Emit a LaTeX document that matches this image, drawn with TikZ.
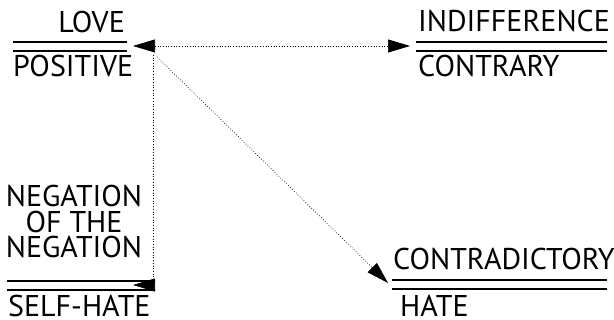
\documentclass[tikz,border=0pt]{standalone}
\usepackage{fontspec}
\setmainfont{PT Sans}
\usetikzlibrary{arrows.meta}
\begin{document}
\begin{tikzpicture}[x=1pt,y=1pt,
  lbl/.style={inner sep=0pt,font=\fontsize{30}{25.5}\selectfont},
  rule/.style={line width=1.8pt},
  conn/.style={dotted,line width=0.7pt},
  head/.tip={Triangle[length=22pt,width=13pt]},
  tip/.style={-head}]
\useasboundingbox (0,0) rectangle (614,320);
% LOVE / POSITIVE
\node[lbl,anchor=base east] (love) at (125,287) {LOVE};
\node[lbl,anchor=base west] (positive) at (13,243) {POSITIVE};
\draw[rule] (13,278) -- (127,278);
\draw[rule] (13,269) -- (127,269);
\coordinate (loveR) at (133,274);
% INDIFFERENCE / CONTRARY
\node[lbl,anchor=base west] (indiff) at (418,288) {INDIFFERENCE};
\node[lbl,anchor=base west] (contrary) at (418,243) {CONTRARY};
\draw[rule] (416,278) -- (607,278);
\draw[rule] (416,269) -- (607,269);
\coordinate (indL) at (410,274);
% NEGATION / SELF-HATE
\node[lbl,anchor=base,align=center] (negation) at (74,62) {NEGATION\\OF THE\\NEGATION};
\node[lbl,anchor=base west] (selfhate) at (8,3) {SELF-HATE};
\draw[rule] (7,39) -- (155,39);
\draw[rule] (7,30) -- (155,30);
\coordinate (negR) at (133,35);
% CONTRADICTORY / HATE
\node[lbl,anchor=base west] (contra) at (393,50) {CONTRADICTORY};
\node[lbl,anchor=base west] (hate) at (400,3) {HATE};
\draw[rule] (392,40) -- (607,40);
\draw[rule] (392,31) -- (607,31);
\coordinate (conL) at (388,37);
% connectors
\coordinate (vtop) at (153,265);
\coordinate (dtop) at (157,263);
\draw[conn,head-head] (loveR) -- (indL);
\draw[conn,tip] (vtop) |- (negR);
\draw[conn,tip] (dtop) -- (conL);
\end{tikzpicture}
\end{document}
